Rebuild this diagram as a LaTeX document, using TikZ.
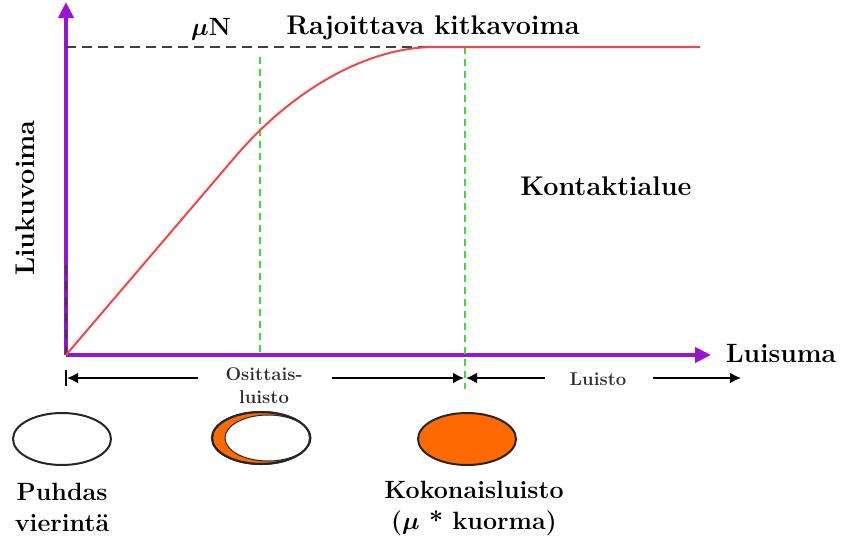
\documentclass[tikz,border=0pt]{standalone}
\usepackage{amsmath}
\usepackage{bm}
\usetikzlibrary{arrows.meta,shapes.geometric}
\definecolor{axpurple}{RGB}{150,20,210}
\definecolor{curvered}{RGB}{240,70,70}
\definecolor{dgreen}{RGB}{60,220,60}
\definecolor{orng}{RGB}{255,105,0}
\definecolor{lbl}{RGB}{45,45,45}
\begin{document}
\begin{tikzpicture}[x=1pt,y=-1pt,
  bigtxt/.style={font=\bfseries\boldmath\fontsize{25}{31}\selectfont, text=black, inner sep=0pt, align=center},
  hugetxt/.style={bigtxt, font=\bfseries\boldmath\fontsize{27}{31}\selectfont},
  smalltxt/.style={font=\bfseries\fontsize{18.5}{23}\selectfont, text=lbl, inner sep=0pt, align=center},
  axis/.style={draw=axpurple, line width=4pt, -{Triangle[length=16pt,width=15pt]}},
  greendash/.style={draw=dgreen, line width=2pt, dash pattern=on 7pt off 5pt},
  blackdash/.style={draw=black!75, line width=2pt, dash pattern=on 10pt off 6pt},
  dimarrow/.style={draw=black, line width=2pt, -{Latex[length=11pt,width=11pt]}},
  contact/.style={draw=black!85, line width=2pt, ellipse, minimum width=98pt, minimum height=52pt, inner sep=0pt}
]
\useasboundingbox (0,0) rectangle (841,539);

% axes
\coordinate (O) at (66,355);
\coordinate (ytop) at (66,2);
\coordinate (xend) at (711,355);
\coordinate (ydash) at (66,265);
\draw[axis] (O) -- (ytop);
\draw[axis] (O) -- (xend);
\draw[blackdash, line width=1.5pt] (ydash) -- (O);

% limiting friction line
\coordinate (muL) at (66,47);
\coordinate (muR) at (450,47);
\draw[blackdash] (muL) -- (muR);

% green dashed lines
\coordinate (g1t) at (260,57);
\coordinate (g1b) at (260,355);
\coordinate (g2t) at (465,47);
\coordinate (g2b) at (465,389);
\draw[greendash] (g1t) -- (g1b);
\draw[greendash] (g2t) -- (g2b);

% curve
\coordinate (c1) at (235,157);
\coordinate (c2) at (435,47);
\coordinate (cend) at (700,47);
\draw[curvered, line width=2pt] (O) -- (c1) .. controls (285,98) and (360,47) .. (c2) -- (cend);

% labels
\node[bigtxt] (mun) at (211,29) {$\mu$N};
\node[hugetxt] (raj) at (433,28) {Rajoittava kitkavoima};
\node[hugetxt, rotate=90] (liuk) at (25,198) {Liukuvoima};
\node[hugetxt] (kont) at (606,186) {Kontaktialue};
\node[hugetxt, font=\bfseries\fontsize{26.5}{31}\selectfont] (luis) at (781,353) {Luisuma};

% dimension arrows row
\node[smalltxt] (osit) at (264,386) {Osittais-\\luisto};
\node[smalltxt] (luisto) at (598,379) {Luisto};
\coordinate (a1) at (198,378);
\coordinate (a2) at (67,378);
\coordinate (bt) at (66,370);
\coordinate (bb) at (66,386);
\coordinate (a3) at (332,378);
\coordinate (a4) at (464,378);
\coordinate (a5) at (545,378);
\coordinate (a6) at (466,378);
\coordinate (a7) at (653,378);
\coordinate (a8) at (741,378);
\draw[dimarrow] (a1) -- (a2);
\draw[black, line width=2pt] (bt) -- (bb);
\draw[dimarrow] (a3) -- (a4);
\draw[dimarrow] (a5) -- (a6);
\draw[dimarrow] (a7) -- (a8);

% contact ellipses
\node[contact, fill=white] (e1) at (62,439) {};
\node[contact, fill=orng] (e2) at (261,438) {};
\fill[white] (268,438) ellipse [x radius=43, y radius=23];
\draw[black!85, line width=1pt] (268,438) ellipse [x radius=43, y radius=23];
\node[contact] (e2b) at (261,438) {};
\node[contact, fill=orng] (e3) at (467,439) {};

\node[bigtxt, anchor=north] (puh) at (62,483) {Puhdas\\vierint\"a};
\node[bigtxt, anchor=north] (kok) at (474,481) {Kokonaisluisto\\($\mu$ * kuorma)};
\end{tikzpicture}
\end{document}
